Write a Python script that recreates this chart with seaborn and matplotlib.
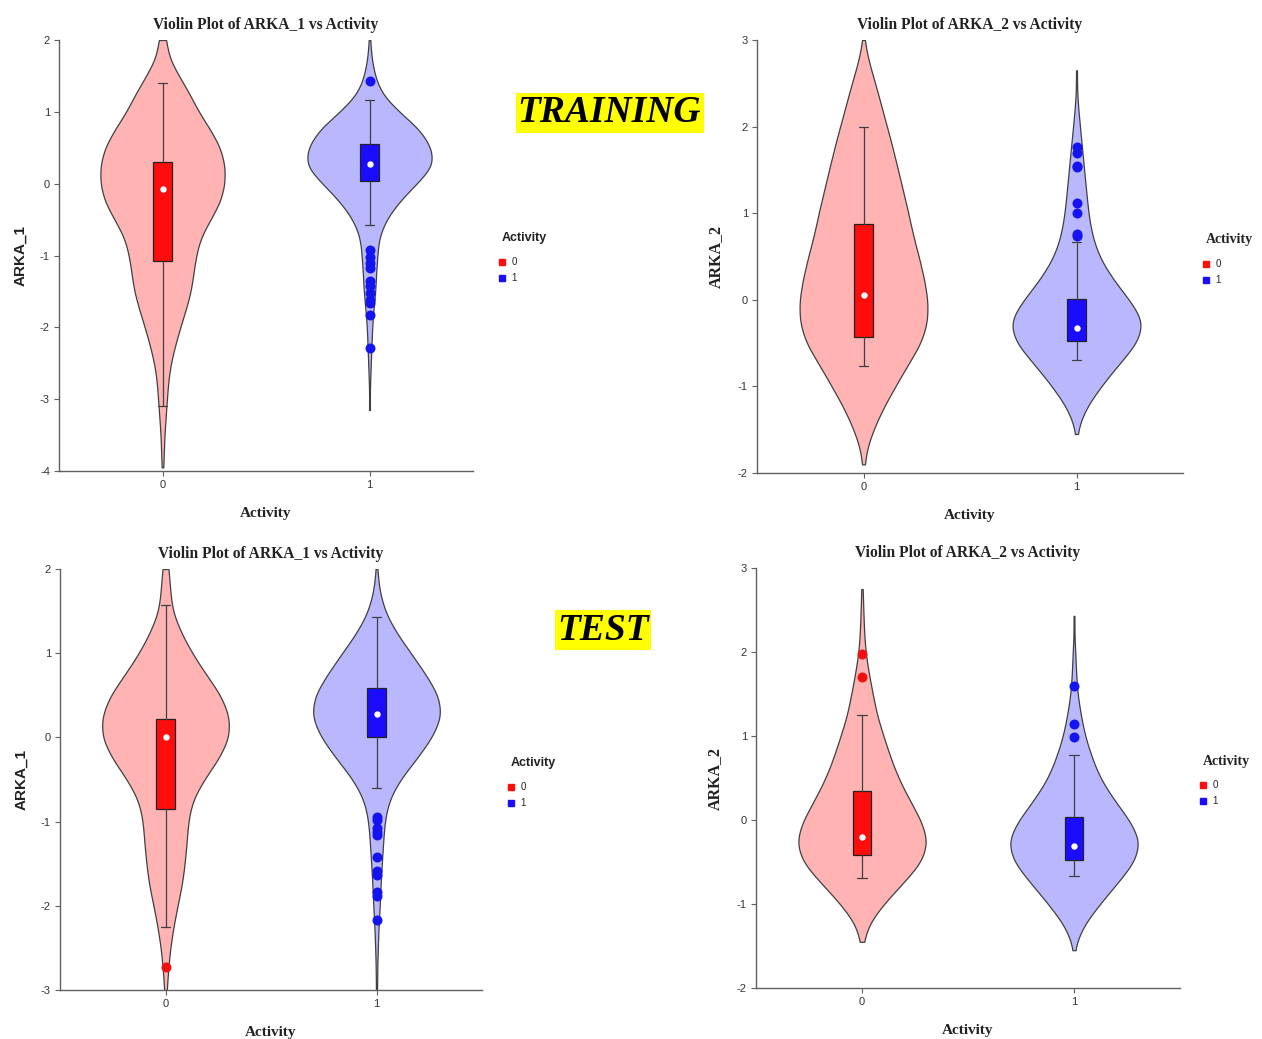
import numpy as np
import matplotlib
matplotlib.use("Agg")
import matplotlib.pyplot as plt
from matplotlib.lines import Line2D
import seaborn as sns

# ---------------- data ----------------
categories = ["0", "1"]

# Violin density profiles: value grid and relative frequency at each value
tr1_a0_vals = [-3.95, -3.75, -3.5, -3.25, -3.0, -2.75, -2.5, -2.25, -2.0, -1.75, -1.5, -1.25, -1.0,
               -0.75, -0.5, -0.25, 0.0, 0.25, 0.5, 0.75, 1.0, 1.25, 1.5, 1.75, 2.0]
tr1_a0_cnts = [1, 2, 3, 5, 7, 9, 13, 20, 28, 37, 45, 49, 53, 60, 76, 92, 99, 99, 92, 76, 57, 43, 26, 10, 6]
tr1_a1_vals = [-3.15, -2.75, -2.5, -2.25, -2.0, -1.75, -1.5, -1.25, -1.0, -0.75, -0.5, -0.25, 0.0,
               0.25, 0.5, 0.75, 1.0, 1.25, 1.5, 1.75, 2.0]
tr1_a1_cnts = [1, 1, 2, 3, 4, 6, 9, 10, 12, 14, 25, 45, 72, 99, 95, 78, 45, 18, 8, 3, 1]

tr2_a0_vals = [-1.9, -1.75, -1.5, -1.25, -1.0, -0.75, -0.5, -0.25, 0.0, 0.25, 0.5, 0.75, 1.0,
               1.25, 1.5, 1.75, 2.0, 2.25, 2.5, 2.75, 3.0]
tr2_a0_cnts = [1, 3, 15, 30, 49, 68, 89, 99, 99, 93, 85, 76, 69, 61, 53, 45, 36, 27, 18, 8, 1]
tr2_a1_vals = [-1.55, -1.25, -1.0, -0.75, -0.5, -0.25, 0.0, 0.25, 0.5, 0.75, 1.0, 1.25, 1.5,
               1.75, 2.0, 2.25, 2.65]
tr2_a1_cnts = [1, 13, 35, 60, 88, 98, 76, 51, 32, 22, 17, 14, 11, 8, 5, 2, 1]

te1_a0_vals = [-3.0, -2.75, -2.5, -2.25, -2.0, -1.75, -1.5, -1.25, -1.0, -0.75, -0.5, -0.25, 0.0,
               0.25, 0.5, 0.75, 1.0, 1.25, 1.5, 1.75, 2.0]
te1_a0_cnts = [2, 4, 7, 12, 18, 25, 29, 32, 34, 40, 58, 81, 97, 97, 84, 61, 40, 23, 10, 7, 5]
te1_a1_vals = [-3.0, -2.75, -2.5, -2.25, -2.0, -1.75, -1.5, -1.25, -1.0, -0.75, -0.5, -0.25, 0.0,
               0.25, 0.5, 0.75, 1.0, 1.25, 1.5, 1.75, 2.0]
te1_a1_cnts = [1, 1, 2, 3, 5, 6, 8, 10, 12, 18, 35, 61, 84, 99, 94, 74, 52, 29, 12, 4, 1]

te2_a0_vals = [-1.45, -1.25, -1.0, -0.75, -0.5, -0.25, 0.0, 0.25, 0.5, 0.75, 1.0, 1.25, 1.5,
               1.75, 2.0, 2.25, 2.5, 2.75]
te2_a0_cnts = [1, 8, 32, 61, 90, 99, 88, 70, 54, 42, 32, 22, 16, 10, 5, 3, 2, 1]
te2_a1_vals = [-1.55, -1.25, -1.0, -0.75, -0.5, -0.25, 0.0, 0.25, 0.5, 0.75, 1.0, 1.25, 1.5,
               1.75, 2.0, 2.43]
te2_a1_cnts = [1, 14, 38, 64, 90, 99, 82, 58, 38, 26, 16, 10, 5, 3, 2, 1]

# Box statistics per category: [q1, median, q3, lower whisker, upper whisker]
tr1_box = {"0": [-1.08, -0.07, 0.30, -3.09, 1.40], "1": [0.04, 0.28, 0.55, -0.58, 1.16]}
tr2_box = {"0": [-0.43, 0.06, 0.88, -0.77, 2.00], "1": [-0.47, -0.32, 0.01, -0.70, 0.67]}
te1_box = {"0": [-0.85, 0.00, 0.22, -2.25, 1.57], "1": [0.01, 0.28, 0.59, -0.60, 1.43]}
te2_box = {"0": [-0.42, -0.20, 0.34, -0.69, 1.25], "1": [-0.48, -0.31, 0.04, -0.67, 0.77]}

# Outliers per category
tr1_out = {"0": [], "1": [1.43, -0.93, -1.02, -1.11, -1.18, -1.36, -1.43, -1.52, -1.62, -1.66, -1.83, -2.29]}
tr2_out = {"0": [], "1": [1.76, 1.69, 1.55, 1.53, 1.12, 1.00, 0.76, 0.74]}
te1_out = {"0": [-2.73], "1": [-0.95, -0.98, -1.08, -1.12, -1.16, -1.42, -1.59, -1.63, -1.84, -1.88, -2.17]}
te2_out = {"0": [1.98, 1.70], "1": [1.59, 1.14, 0.99]}

# Axis ranges / ticks
tr1_yticks = [-4, -3, -2, -1, 0, 1, 2]
tr2_yticks = [-2, -1, 0, 1, 2, 3]
te1_yticks = [-3, -2, -1, 0, 1, 2]
te2_yticks = [-2, -1, 0, 1, 2, 3]

# ---------------- style ----------------
sns.set_theme(style="ticks")
plt.rcParams["font.family"] = ["Liberation Sans", "DejaVu Sans"]
plt.rcParams["axes.unicode_minus"] = False

SERIF = ["Liberation Serif", "DejaVu Serif"]
SANS = ["Liberation Sans", "DejaVu Sans"]

violin_fill = {"0": "#FFB3B3", "1": "#B9B8FF"}
box_fill = {"0": "#FF0D0D", "1": "#1A0DFF"}
point_col = {"0": "#F01010", "1": "#1414F0"}
OUTLINE = "#404040"

W, H = 1262, 1039
fig = plt.figure(figsize=(W / 100, H / 100), dpi=100)


def px_axes(left, top, right, bottom):
    return fig.add_axes([left / W, 1 - bottom / H, (right - left) / W, (bottom - top) / H])


def draw_panel(ax, profiles, box, outl, yticks, var, label_serif, leg_xy):
    for cat in categories:
        vals, cnts = profiles[cat]
        sample = np.repeat(np.array(vals, float), np.array(cnts, int))
        bwf = 0.165 / sample.std()
        sns.violinplot(x=[cat] * len(sample), y=sample, order=categories,
                       color=violin_fill[cat], saturation=1, inner=None, cut=0,
                       bw_method=bwf, density_norm="width", width=0.6, gridsize=300,
                       linewidth=0.9, linecolor=OUTLINE, ax=ax)
    stats = []
    for cat in categories:
        q1, med, q3, wlo, whi = box[cat]
        stats.append(dict(q1=q1, med=med, q3=q3, whislo=wlo, whishi=whi, fliers=[]))
    bp = ax.bxp(stats, positions=[0, 1], widths=0.088, capwidths=0.045,
                patch_artist=True, showfliers=False,
                boxprops=dict(edgecolor="#222222", linewidth=0.9),
                whiskerprops=dict(color=OUTLINE, linewidth=0.9),
                capprops=dict(color=OUTLINE, linewidth=0.9),
                medianprops=dict(linewidth=0), zorder=3)
    for patch, cat in zip(bp["boxes"], categories):
        patch.set_facecolor(box_fill[cat])
    for m in bp["medians"]:
        m.set_visible(False)
    for cat in categories:
        if outl[cat]:
            sns.stripplot(x=[cat] * len(outl[cat]), y=outl[cat], order=categories,
                          jitter=False, color=point_col[cat], size=7.2, linewidth=0,
                          ax=ax, zorder=4)
    sns.stripplot(x=categories, y=[box[c][1] for c in categories], order=categories,
                  jitter=False, color="white", size=4.6, linewidth=0, ax=ax, zorder=5)

    ax.set_xlim(-0.5, 1.5)
    ax.set_ylim(yticks[0], yticks[-1])
    ax.set_yticks(yticks)
    ax.set_yticklabels([str(t) for t in yticks])
    ax.set_xticks([0, 1])
    ax.set_xticklabels(categories)
    sns.despine(ax=ax)
    for s in ("left", "bottom"):
        ax.spines[s].set_color("#606060")
        ax.spines[s].set_linewidth(1.0)
    ax.tick_params(axis="both", colors="#606060", labelcolor="#333333", labelsize=8,
                   length=3.5, width=0.8, pad=3)
    ax.grid(False)
    ax.set_title(f"Violin Plot of {var} vs Activity", fontfamily=SERIF,
                 fontweight="bold", fontsize=11.2, pad=8, color="#222222")
    ax.set_xlabel("Activity", fontfamily=SERIF, fontweight="bold", fontsize=11,
                  labelpad=12, color="#222222")
    if label_serif:
        ax.set_ylabel(var, fontfamily=SERIF, fontweight="bold", fontsize=11.5,
                      labelpad=10, color="#222222")
    else:
        ax.set_ylabel(var, fontfamily=SANS, fontweight="bold", fontsize=11,
                      labelpad=9, color="#222222")
    # legend
    lx, ly = leg_xy
    fig.text(lx / W, 1 - ly / H, "Activity", ha="left", va="center",
             fontfamily=SERIF if label_serif else SANS, fontweight="bold",
             fontsize=10 if label_serif else 9, color="#222222")
    handles = [Line2D([], [], marker="s", linestyle="", color=box_fill[c],
                      markersize=4.3) for c in categories]
    fig.legend(handles, categories, loc="upper left",
               bbox_to_anchor=((lx - 4) / W, 1 - (ly + 19) / H),
               bbox_transform=fig.transFigure, frameon=False, fontsize=7,
               borderpad=0, handlelength=0.8, handletextpad=0.6, labelspacing=0.62,
               borderaxespad=0)


ax1 = px_axes(59, 40, 473, 471)
draw_panel(ax1, {"0": (tr1_a0_vals, tr1_a0_cnts), "1": (tr1_a1_vals, tr1_a1_cnts)},
           tr1_box, tr1_out, tr1_yticks, "ARKA_1", False, (502, 238))
ax2 = px_axes(757, 40, 1183, 473)
draw_panel(ax2, {"0": (tr2_a0_vals, tr2_a0_cnts), "1": (tr2_a1_vals, tr2_a1_cnts)},
           tr2_box, tr2_out, tr2_yticks, "ARKA_2", True, (1206, 240))
ax3 = px_axes(60, 569, 482, 990)
draw_panel(ax3, {"0": (te1_a0_vals, te1_a0_cnts), "1": (te1_a1_vals, te1_a1_cnts)},
           te1_box, te1_out, te1_yticks, "ARKA_1", False, (511, 763))
ax4 = px_axes(756, 568, 1180, 988)
draw_panel(ax4, {"0": (te2_a0_vals, te2_a0_cnts), "1": (te2_a1_vals, te2_a1_cnts)},
           te2_box, te2_out, te2_yticks, "ARKA_2", True, (1203, 761))

for txt, cx, cy in (("TRAINING", 609.5, 113), ("TEST", 603, 630)):
    fig.text(cx / W, 1 - cy / H, txt, ha="center", va="center", fontfamily=SERIF,
             fontweight="bold", fontstyle="italic", fontsize=27, color="black",
             bbox=dict(boxstyle="square,pad=0.06", facecolor="#FFFF00", edgecolor="none"))

fig.savefig("out.png", dpi=100, facecolor="white")
